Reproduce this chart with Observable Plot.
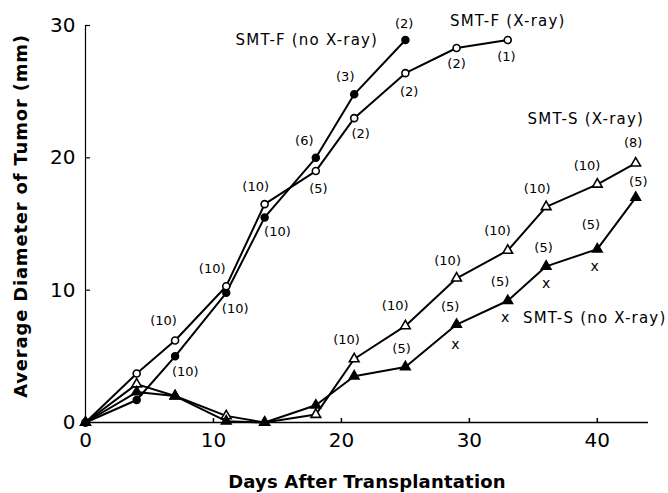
<!DOCTYPE html>
<html>
<head>
<meta charset="utf-8">
<script src="https://cdn.jsdelivr.net/npm/d3@7"></script>
<script src="https://cdn.jsdelivr.net/npm/@observablehq/plot@0.6"></script>
<style>
  html, body { margin: 0; padding: 0; background: #fff; }
  #chart svg { display: block; }
</style>
</head>
<body>
<div id="chart"></div>
<script>
// Series: days and average diameters (mm)
const fNoXDays = [0, 4, 7, 11, 14, 18, 21, 25];
const fNoXVals = [0, 1.7, 5.0, 9.8, 15.5, 20.0, 24.8, 28.9];

const fXDays = [0, 4, 7, 11, 14, 18, 21, 25, 29, 33];
const fXVals = [0, 3.7, 6.2, 10.3, 16.5, 19.0, 23.0, 26.4, 28.3, 28.9];

const sXDays = [0, 4, 7, 11, 14, 18, 21, 25, 29, 33, 36, 40, 43];
const sXVals = [0, 2.9, 2.0, 0.5, 0, 0.6, 4.8, 7.3, 10.9, 13.0, 16.3, 18.0, 19.6];

const sNoXDays = [0, 4, 7, 11, 14, 18, 21, 25, 29, 33, 36, 40, 43];
const sNoXVals = [0, 2.3, 2.0, 0.1, 0, 1.3, 3.5, 4.2, 7.4, 9.2, 11.8, 13.1, 17.0];

// Annotations: sample counts (text, day, value where placed)
const countText = ["(10)", "(10)", "(10)", "(6)", "(3)", "(2)",
                   "(10)", "(10)", "(10)", "(5)", "(2)", "(2)", "(2)", "(1)",
                   "(10)", "(10)", "(10)", "(10)", "(10)", "(10)", "(8)",
                   "(5)", "(5)", "(5)", "(5)", "(5)", "(5)"];
const countX = [7.8, 11.7, 15.0, 17.1, 20.3, 24.9,
                6.1, 9.9, 13.3, 18.2, 21.5, 25.3, 29.0, 32.9,
                20.4, 24.2, 28.3, 32.2, 35.3, 39.2, 42.8,
                24.7, 28.5, 32.4, 35.8, 39.5, 43.2];
const countY = [3.8, 8.6, 14.4, 21.3, 26.1, 30.1,
                7.7, 11.6, 17.8, 17.65, 21.8, 25.0, 27.1, 27.6,
                6.25, 8.8, 12.2, 14.5, 17.65, 19.4, 21.1,
                5.6, 8.75, 10.6, 13.2, 14.9, 18.2];

// "x" marks under SMT-S (no X-ray)
const xMarkX = [28.9, 32.8, 36.0, 39.8];
const xMarkY = [5.9, 7.9, 10.5, 11.8];

// Series names and their label positions
const seriesNames = ["SMT-F (no X-ray)", "SMT-F (X-ray)", "SMT-S (X-ray)", "SMT-S (no X-ray)"];
const seriesLabelX = [17.3, 33.0, 39.1, 39.8];
const seriesLabelY = [28.9, 30.3, 22.95, 7.9];

const xTitle = "Days After Transplantation";
const yTitle = "Average Diameter of Tumor (mm)";
const xTicks = [0, 10, 20, 30, 40];
const yTicks = [0, 10, 20, 30];

const toRows = (days, vals) => days.map((d, i) => ({day: d, val: vals[i]}));
const fNoX = toRows(fNoXDays, fNoXVals);
const fX = toRows(fXDays, fXVals);
const sX = toRows(sXDays, sXVals);
const sNoX = toRows(sNoXDays, sNoXVals);
const counts = countText.map((t, i) => ({t, x: countX[i], y: countY[i]}));
const xMarks = xMarkX.map((x, i) => ({x, y: xMarkY[i]}));
const names = seriesNames.map((t, i) => ({t, x: seriesLabelX[i], y: seriesLabelY[i]}));

const FONT = "DejaVu Sans";
const line = (data) => Plot.line(data, {x: "day", y: "val", stroke: "black", strokeWidth: 2});

const chart = Plot.plot({
  width: 668,
  height: 493,
  marginLeft: 85,
  marginRight: 20,
  marginTop: 25,
  marginBottom: 71,
  style: {fontFamily: FONT, background: "white", color: "black"},
  x: {domain: [0, 44]},
  y: {domain: [0, 30]},
  marks: [
    Plot.axisX({ticks: xTicks, tickSize: -4, tickPadding: 14, fontSize: 20, label: null, tickFormat: d3.format("d"), strokeWidth: 1.5}),
    Plot.axisY({ticks: yTicks, tickSize: -5, tickPadding: 15, fontSize: 20, label: null, tickFormat: d3.format("d"), strokeWidth: 1.2}),
    Plot.ruleY([0], {stroke: "black", strokeWidth: 1.6}),
    Plot.ruleX([0], {stroke: "black", strokeWidth: 1.2}),
    line(fNoX), line(fX), line(sX), line(sNoX),
    Plot.dot(fNoX, {x: "day", y: "val", r: 3.5, fill: "black", stroke: "black"}),
    Plot.dot(fX, {x: "day", y: "val", r: 3.5, fill: "white", stroke: "black", strokeWidth: 1.6}),
    Plot.dot(sX, {x: "day", y: "val", r: 3.6, symbol: "triangle", fill: "white", stroke: "black", strokeWidth: 1.6}),
    Plot.dot(sNoX, {x: "day", y: "val", r: 3.6, symbol: "triangle", fill: "black", stroke: "black"}),
    Plot.text(counts, {x: "x", y: "y", text: "t", fontSize: 13, fill: "black"}),
    Plot.text(xMarks, {x: "x", y: "y", text: () => "x", fontSize: 14, fill: "black"}),
    Plot.text(names, {x: "x", y: "y", text: "t", fontSize: 15, fill: "black"}),
    Plot.text([xTitle], {frameAnchor: "bottom", dy: 60, textAnchor: "middle", lineAnchor: "middle", fontSize: 18, fontWeight: "bold", fill: "black"}),
    Plot.text([yTitle], {frameAnchor: "left", dx: -64, dy: -8, textAnchor: "middle", lineAnchor: "middle", rotate: -90, fontSize: 18, fontWeight: "bold", fill: "black"})
  ]
});
const allText = d3.select(chart).selectAll("text");
allText.filter(function() { return seriesNames.includes(this.textContent); }).style("letter-spacing", "1.2px");
allText.filter(function() { return this.textContent === xTitle; }).style("letter-spacing", "0.2px");
allText.filter(function() { return this.textContent === yTitle; }).style("letter-spacing", "0.8px");
document.getElementById("chart").appendChild(chart);
</script>
</body>
</html>
